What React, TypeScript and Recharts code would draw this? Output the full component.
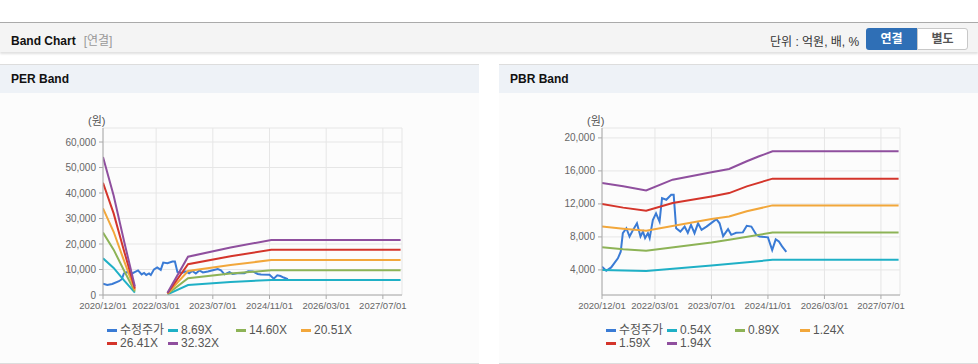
import { LineChart, Line, XAxis, YAxis, CartesianGrid } from 'recharts';

const FONT = '"Liberation Sans", Arial, "Noto Sans CJK KR", sans-serif';

// x axis: months counted from 2020/12/01
const xTickMonths = [0, 15, 31, 47, 63, 79];
const xTickLabels = ['2020/12/01', '2022/03/01', '2023/07/01', '2024/11/01', '2026/03/01', '2027/07/01'];

const perTicks = [0, 10000, 20000, 30000, 40000, 50000, 60000];
const pbrTicks = [4000, 8000, 12000, 16000, 20000];

// 수정주가 (month, 원)
const price: [number, number][] = [
  [0, 4400], [1.2, 3900], [2.6, 4300], [4.5, 5400], [5.3, 6200], [5.9, 8450], [6.9, 9050],
  [7.8, 8050], [8.8, 8850], [9.9, 9650], [10.9, 8050], [11.6, 8650], [12.2, 7850], [13, 8450],
  [13.5, 7850], [14.4, 10050], [15.3, 10850], [16.3, 9850], [17, 12700], [18.2, 12500],
  [19.6, 13100], [20.3, 13100], [21, 9050], [22.2, 8650], [23.4, 9250], [24.3, 8500],
  [25.2, 9450], [26.2, 8450], [27.2, 9650], [28.2, 8850], [29.6, 9250], [32.4, 10150],
  [33.3, 9650], [34.3, 8100], [35.7, 8950], [36.6, 8250], [38, 8500], [39.9, 8550],
  [41, 9350], [42.3, 9250], [43.7, 8250], [44.6, 8050], [47, 7950], [48.2, 6400],
  [49.2, 7700], [50.1, 7450], [51, 6850], [52.2, 6200],
];

// PER bands
const per869: [number, number | null][] = [
  [0, 14400], [3, 10600], [6, 5600], [9, 900], [13.5, null], [18.2, 250], [24, 3900], [36, 5100], [47.5, 5900], [84, 5900],
];
const per1460: [number, number | null][] = [
  [0, 24500], [3, 17800], [6, 9400], [9, 1400], [13.5, null], [18.2, 400], [24, 6600], [36, 8400], [47.5, 9700], [84, 9700],
];
const per2051: [number, number | null][] = [
  [0, 34000], [3, 24800], [6, 13200], [9, 1900], [13.5, null], [18.2, 550], [24, 9400], [36, 11800], [47.5, 13700], [84, 13700],
];
const per2641: [number, number | null][] = [
  [0, 44000], [3, 32000], [6, 17000], [9, 2500], [13.5, null], [18.2, 700], [24, 12100], [36, 15200], [47.5, 17700], [84, 17700],
];
const per3232: [number, number | null][] = [
  [0, 54100], [3, 39000], [6, 20800], [9, 3300], [13.5, null], [18.2, 900], [24, 15000], [36, 18600], [47.5, 21600], [84, 21600],
];

// PBR bands
const pbr054: [number, number][] = [[0, 4000], [12.5, 3880], [31, 4530], [48.3, 5220], [84, 5220]];
const pbr089: [number, number][] = [[0, 6760], [6, 6500], [12.5, 6310], [31, 7320], [36, 7650], [48.3, 8540], [84, 8540]];
const pbr124: [number, number][] = [
  [0, 9270], [6, 9000], [12.5, 8740], [31, 10160], [36, 10480], [41, 11100], [48.3, 11820], [84, 11820],
];
const pbr159: [number, number][] = [
  [0, 11980], [6, 11550], [12.5, 11170], [20, 12100], [31, 12910], [36, 13310], [41, 14130], [48.3, 15060], [84, 15060],
];
const pbr194: [number, number][] = [
  [0, 14530], [6, 14130], [12.5, 13640], [20, 14940], [31, 15830], [36, 16230], [41, 17170], [44.5, 17770], [48.3, 18380], [84, 18380],
];

const COLORS = ['#3a7bd5', '#1fb0c6', '#8db356', '#f2a73b', '#d4352b', '#8f4f9e'];
const perNames = ['수정주가', '8.69X', '14.60X', '20.51X', '26.41X', '32.32X'];
const pbrNames = ['수정주가', '0.54X', '0.89X', '1.24X', '1.59X', '1.94X'];

const toPoints = (rows: [number, number | null][]) => rows.map(([m, v]) => ({ m, v }));

const fmt = (v: number) => v.toString().replace(/\B(?=(\d{3})+(?!\d))/g, ',');

interface BandProps {
  left: number;
  series: [number, number | null][][];
  names: string[];
  domain: [number, number];
  ticks: number[];
  marginRight: number;
}

function BandChart({ left, series, names, domain, ticks, marginRight }: BandProps) {
  const legendX = [0, 61, 129, 194];
  return (
    <>
      <div
        style={{
          position: 'absolute', left: left + 45, top: 112, fontSize: 11, color: '#555',
          fontFamily: FONT,
        }}
      >
        (원)
      </div>
      <div style={{ position: 'absolute', left, top: 110 }}>
        <LineChart width={370} height={215} margin={{ top: 18, right: marginRight, bottom: 0, left: 0 }}>
          <CartesianGrid stroke="#e6e6e6" />
          <XAxis
            type="number"
            dataKey="m"
            domain={[0, 84.4]}
            ticks={xTickMonths}
            interval={0}
            allowDataOverflow
            tickFormatter={(v) => xTickLabels[xTickMonths.indexOf(v)] ?? ''}
            tick={{ fontSize: 9.5, fill: '#666', fontFamily: FONT }}
            stroke="#aaa"
            tickSize={4}
            tickMargin={3}
            height={30}
          />
          <XAxis xAxisId="top" orientation="top" type="number" domain={[0, 1]} tick={false} stroke="#bbb" height={0} />
          <YAxis
            type="number"
            domain={domain}
            ticks={ticks}
            interval={0}
            allowDataOverflow
            tickFormatter={fmt}
            tick={{ fontSize: 10, fill: '#666', fontFamily: FONT }}
            stroke="#aaa"
            tickSize={4}
            tickMargin={3}
            width={60}
          />
          <YAxis yAxisId="right" orientation="right" type="number" domain={[0, 1]} tick={false} stroke="#bbb" width={0} />
          {series.map((rows, i) => (
            <Line
              key={names[i]}
              data={toPoints(rows)}
              dataKey="v"
              type="linear"
              stroke={COLORS[i]}
              strokeWidth={2}
              dot={false}
              isAnimationActive={false}
            />
          ))}
        </LineChart>
      </div>
      {names.map((name, i) => (
        <div
          key={name}
          style={{
            position: 'absolute',
            left: left + 64 + legendX[i % 4],
            top: i < 4 ? 323 : 336,
            display: 'flex',
            alignItems: 'center',
            fontSize: 12,
            color: '#555',
            fontFamily: FONT,
            whiteSpace: 'nowrap',
            lineHeight: '15px',
          }}
        >
          <span style={{ width: 10, height: 3, background: COLORS[i], marginRight: 3 }} />
          {name}
        </div>
      ))}
    </>
  );
}

export default function App() {
  return (
    <div
      style={{
        position: 'absolute', left: 0, top: 0, width: 978, height: 364, background: '#fff',
        fontFamily: FONT, overflow: 'hidden',
      }}
    >
      {/* top header bar */}
      <div
        style={{
          position: 'absolute', left: 0, top: 22, width: 978, height: 29, background: '#f4f4f4',
          borderTop: '1px solid #aaa', boxShadow: '0 2px 2px rgba(0,0,0,0.12)',
        }}
      />
      <div style={{ position: 'absolute', left: 11, top: 31, fontSize: 12, fontWeight: 'bold', color: '#111' }}>
        Band Chart
        <span style={{ fontWeight: 'normal', color: '#999', marginLeft: 8 }}>[연결]</span>
      </div>
      <div style={{ position: 'absolute', left: 770, top: 32, fontSize: 12, color: '#333' }}>단위 : 억원, 배, %</div>
      <div
        style={{
          position: 'absolute', left: 866, top: 28, width: 51, height: 22, background: '#2f6fb6',
          borderRadius: '3px 0 0 3px', color: '#fff', fontSize: 12, fontWeight: 'bold',
          textAlign: 'center', lineHeight: '22px',
        }}
      >
        연결
      </div>
      <div
        style={{
          position: 'absolute', left: 917, top: 28, width: 49, height: 20, background: '#fff',
          border: '1px solid #c8c8c8', borderRadius: '0 3px 3px 0', color: '#555', fontSize: 12,
          fontWeight: 'bold', textAlign: 'center', lineHeight: '20px',
        }}
      >
        별도
      </div>

      {/* panels */}
      {[0, 499].map((x) => (
        <div key={x}>
          <div
            style={{
              position: 'absolute', left: x, top: 64, width: 479, height: 298, background: '#fcfcfc',
              borderTop: '1px solid #ddd', borderBottom: '1px solid #ddd',
            }}
          />
          <div style={{ position: 'absolute', left: x, top: 65, width: 479, height: 28, background: '#eef2f7' }} />
        </div>
      ))}
      <div style={{ position: 'absolute', left: 11, top: 72, fontSize: 12, fontWeight: 'bold', color: '#111' }}>
        PER Band
      </div>
      <div style={{ position: 'absolute', left: 510, top: 72, fontSize: 12, fontWeight: 'bold', color: '#111' }}>
        PBR Band
      </div>

      <BandChart
        left={43}
        series={[price, per869, per1460, per2051, per2641, per3232]}
        names={perNames}
        domain={[0, 65500]}
        ticks={perTicks}
        marginRight={11}
      />
      <BandChart
        left={542}
        series={[price, pbr054, pbr089, pbr124, pbr159, pbr194]}
        names={pbrNames}
        domain={[960, 21200]}
        ticks={pbrTicks}
        marginRight={12}
      />
    </div>
  );
}
